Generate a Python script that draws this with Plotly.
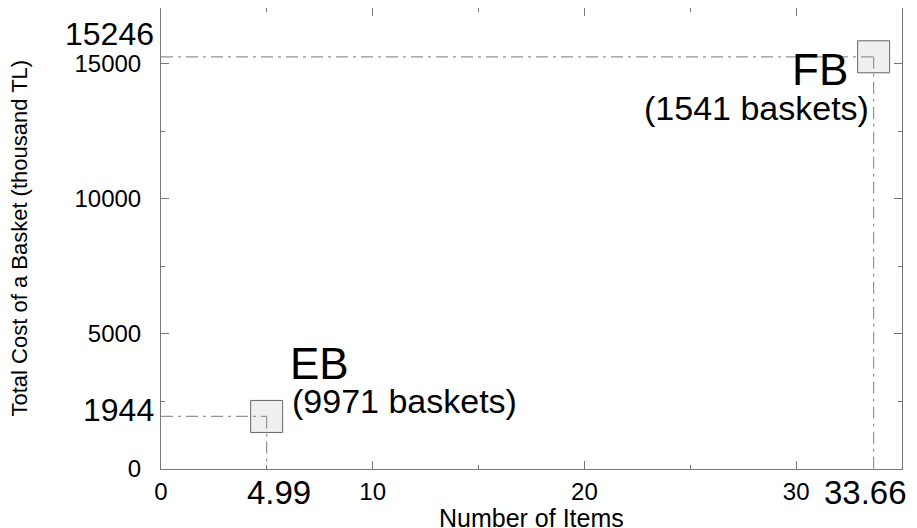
import plotly.graph_objects as go

# ---- data ----
groups = ["EB", "FB"]
num_items = [4.99, 33.66]          # average number of items per basket
total_cost = [1944, 15246]         # average total cost (thousand TL)
baskets = [9971, 1541]             # number of baskets in each group

x_tick_vals = [0, 10, 20, 30]
y_tick_vals = [0, 5000, 10000, 15000]
x_title = "Number of Items"
y_title = "Total Cost of a Basket (thousand TL)"

FONT = "Liberation Sans, Arial, Helvetica, sans-serif"
AXIS_COLOR = "#777777"
GUIDE_COLOR = "#949494"

fig = go.Figure()

# squares marking the two groups
fig.add_trace(go.Scatter(
    x=num_items, y=total_cost, mode="markers",
    marker=dict(symbol="square", size=32, color="#efefef",
                line=dict(color="#666666", width=1)),
    showlegend=False, hoverinfo="skip"))

# dash-dot guide lines from each square to the axes
for xv, yv in zip(num_items, total_cost):
    fig.add_trace(go.Scatter(
        x=[0, xv], y=[yv, yv], mode="lines",
        line=dict(color=GUIDE_COLOR, width=1.2, dash="12px,5px,3px,5px"),
        showlegend=False, hoverinfo="skip"))
    fig.add_trace(go.Scatter(
        x=[xv, xv], y=[yv, 0], mode="lines",
        line=dict(color=GUIDE_COLOR, width=1.2, dash="12px,5px,3px,5px"),
        showlegend=False, hoverinfo="skip"))

annotations = []
# group labels
label_style = {
    "EB": dict(name=dict(xanchor="left", xshift=21, yshift=53),
               cnt=dict(xanchor="left", xshift=23, yshift=15)),
    "FB": dict(name=dict(xanchor="right", xshift=-24, yshift=-13),
               cnt=dict(xanchor="right", xshift=-3, yshift=-51)),
}
for g, xv, yv, b in zip(groups, num_items, total_cost, baskets):
    st = label_style[g]
    annotations.append(dict(x=xv, y=yv, xref="x", yref="y", text=g,
                            showarrow=False, yanchor="middle",
                            font=dict(family=FONT, size=44, color="black"),
                            **st["name"]))
    annotations.append(dict(x=xv, y=yv, xref="x", yref="y",
                            text=f"({b} baskets)", showarrow=False,
                            yanchor="middle",
                            font=dict(family=FONT, size=34, color="black"),
                            **st["cnt"]))

# enlarged value labels on the axes
y_label_shift = [6, 23]
for yv, ys in zip(total_cost, y_label_shift):
    annotations.append(dict(x=0, y=yv, xref="paper", yref="y", text=str(yv),
                            showarrow=False, xanchor="right", yanchor="middle",
                            xshift=-5, yshift=ys,
                            font=dict(family=FONT, size=32, color="black")))
x_label_shift = [12, -8]
for xv, xs in zip(num_items, x_label_shift):
    annotations.append(dict(x=xv, y=0, xref="x", yref="paper",
                            text=f"{xv:.2f}", showarrow=False,
                            xanchor="center", yanchor="top",
                            xshift=xs, yshift=-3,
                            font=dict(family=FONT, size=33, color="black")))

# axis titles
annotations.append(dict(x=0.5, y=0, xref="paper", yref="paper", text=x_title,
                        showarrow=False, xanchor="center", yanchor="top",
                        yshift=-33,
                        font=dict(family=FONT, size=25, color="black")))
annotations.append(dict(x=0, y=0.5, xref="paper", yref="paper", text=y_title,
                        showarrow=False, xanchor="center", yanchor="middle",
                        xshift=-142, textangle=-90,
                        font=dict(family=FONT, size=22, color="black")))

axis_common = dict(showline=True, linecolor=AXIS_COLOR, linewidth=1,
                   mirror="ticks", ticks="inside", ticklen=8,
                   tickcolor=AXIS_COLOR, tickwidth=1, showgrid=False,
                   zeroline=False, tickformat="d",
                   tickfont=dict(family=FONT, size=24, color="black"))

# page body has an 8px margin, so the figure is 8px smaller than the window
fig.update_layout(
    width=909, height=520, autosize=False,
    margin=dict(l=153, r=15, t=0, b=59),
    plot_bgcolor="white", paper_bgcolor="white",
    xaxis=dict(range=[0, 35], tickmode="array", tickvals=x_tick_vals,
               ticklabelstandoff=1,
               minor=dict(dtick=5, ticks="inside", ticklen=4,
                          tickcolor=AXIS_COLOR),
               **axis_common),
    yaxis=dict(range=[0, 17050], tickmode="array", tickvals=y_tick_vals,
               ticklabelstandoff=14,
               minor=dict(dtick=2500, ticks="inside", ticklen=4,
                          tickcolor=AXIS_COLOR),
               **axis_common),
    annotations=annotations,
)

fig.write_html("out.html")
